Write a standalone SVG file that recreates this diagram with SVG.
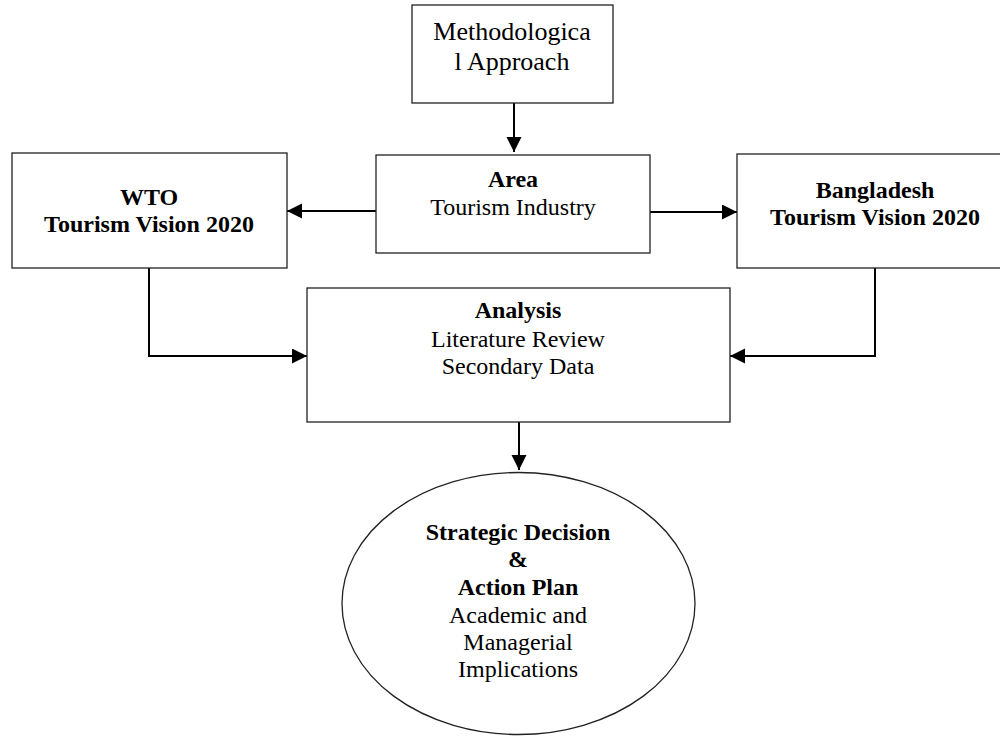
<svg xmlns="http://www.w3.org/2000/svg" width="1000" height="736" viewBox="0 0 1000 736">
<style>
.box{fill:#fff;stroke:#222;stroke-width:1.3}
.t{font-family:"Liberation Serif","Times New Roman",serif;font-size:24px;fill:#000;text-anchor:middle}
.big{font-size:26px}
.b{font-weight:bold}
.c{fill:none;stroke:#000;stroke-width:2}
</style>
<defs>
<marker id="ah" markerUnits="userSpaceOnUse" markerWidth="16" markerHeight="16" refX="15" refY="7.5" orient="auto">
<path d="M0,0 L15,7.5 L0,15 Z" fill="#000"/>
</marker>
</defs>
<rect width="1000" height="736" fill="#fff"/>
<g id="connectors">
<line class="c" x1="514" y1="103" x2="514" y2="152" marker-end="url(#ah)"/>
<line class="c" x1="376" y1="211" x2="287" y2="211" marker-end="url(#ah)"/>
<line class="c" x1="650" y1="212" x2="737" y2="212" marker-end="url(#ah)"/>
<polyline class="c" points="149,268 149,356 307,356" marker-end="url(#ah)"/>
<polyline class="c" points="875,268 875,356 730,356" marker-end="url(#ah)"/>
<line class="c" x1="519" y1="422" x2="519" y2="470" marker-end="url(#ah)"/>
</g>
<g id="methodology">
<rect class="box" x="412" y="5" width="201" height="98"/>
<text class="t big" x="512" y="40">Methodologica</text>
<text class="t big" x="512" y="70">l Approach</text>
</g>
<g id="area">
<rect class="box" x="376" y="155" width="274" height="98"/>
<text class="t b" x="513" y="187">Area</text>
<text class="t" x="513" y="215">Tourism Industry</text>
</g>
<g id="wto">
<rect class="box" x="12" y="153" width="275" height="115"/>
<text class="t b" x="149" y="205">WTO</text>
<text class="t b" x="149" y="232">Tourism Vision 2020</text>
</g>
<g id="bangladesh">
<rect class="box" x="737" y="154" width="276" height="114"/>
<text class="t b" x="875" y="198">Bangladesh</text>
<text class="t b" x="875" y="225">Tourism Vision 2020</text>
</g>
<g id="analysis">
<rect class="box" x="307" y="288" width="423" height="134"/>
<text class="t b" x="518" y="318">Analysis</text>
<text class="t" x="518" y="347">Literature Review</text>
<text class="t" x="518" y="374">Secondary Data</text>
</g>
<g id="strategic">
<ellipse class="box" cx="518.5" cy="603.5" rx="176.5" ry="131"/>
<text class="t b" x="518" y="540">Strategic Decision</text>
<text class="t b" x="518" y="567">&amp;</text>
<text class="t b" x="518" y="595">Action Plan</text>
<text class="t" x="518" y="623">Academic and</text>
<text class="t" x="518" y="650">Managerial</text>
<text class="t" x="518" y="677">Implications</text>
</g>
</svg>
